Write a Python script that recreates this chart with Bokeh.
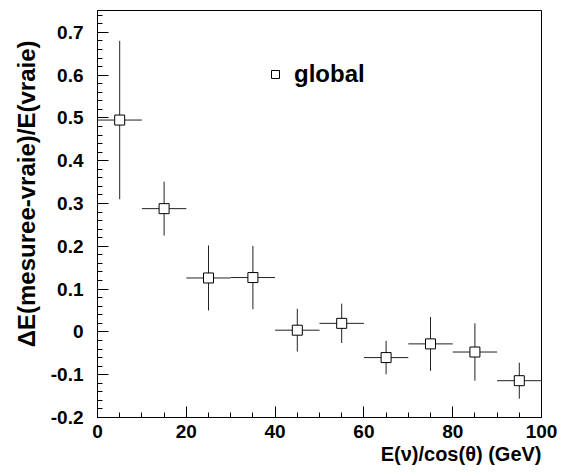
from bokeh.plotting import figure
from bokeh.models import (Range1d, FixedTicker, CustomJSTickFormatter, Title,
                          ColumnDataSource, Legend, LegendItem)
from bokeh.embed import file_html
from bokeh.resources import INLINE
import numpy as np

# ---- data ----
energy = [5, 15, 25, 35, 45, 55, 65, 75, 85, 95]
energy_err = [5, 5, 5, 5, 5, 5, 5, 5, 5, 5]
resolution = [0.495, 0.288, 0.126, 0.127, 0.004, 0.020, -0.060, -0.028, -0.047, -0.114]
resolution_err = [0.185, 0.063, 0.076, 0.074, 0.050, 0.046, 0.039, 0.063, 0.067, 0.042]
series_name = "global"

x_ticks = [0, 20, 40, 60, 80, 100]
x_tick_labels = ["0", "20", "40", "60", "80", "100"]
y_ticks = [-0.2, -0.1, 0.0, 0.1, 0.2, 0.3, 0.4, 0.5, 0.6, 0.7]
y_tick_labels = ["-0.2", "-0.1", "0", "0.1", "0.2", "0.3", "0.4", "0.5", "0.6", "0.7"]
x_title = "E(\u03bd)/cos(\u03b8) (GeV)"
y_title = "\u0394E(mesuree-vraie)/E(vraie)"

FONT = "Liberation Sans"

x = np.array(energy, dtype=float)
xe = np.array(energy_err, dtype=float)
y = np.array(resolution, dtype=float)
ye = np.array(resolution_err, dtype=float)

src = ColumnDataSource(dict(
    x=x, y=y,
    xl=x - xe, xr=x + xe,
    yl=y - ye, yh=y + ye,
))

p = figure(width=562, height=472, output_backend="svg", toolbar_location=None,
           x_range=Range1d(0, 100), y_range=Range1d(-0.2, 0.751),
           min_border_left=97, min_border_right=21, min_border_top=10, min_border_bottom=55)

p.background_fill_color = "white"
p.border_fill_color = "white"
p.outline_line_color = "black"
p.outline_line_width = 1
p.xgrid.visible = False
p.ygrid.visible = False

# error bars
p.segment(x0="xl", x1="xr", y0="y", y1="y", source=src, line_color="#222222", line_width=1)
p.segment(x0="x", x1="x", y0="yl", y1="yh", source=src, line_color="#222222", line_width=1)
pts = p.scatter(x="x", y="y", source=src, marker="square", size=10,
                fill_color="white", line_color="black", line_width=1)

FMT_CODE = """
const i = tk.findIndex(t => Math.abs(t - tick) < 1e-9);
return i >= 0 ? lbls[i] : '';
"""

# axes
x_minor = [v for v in range(0, 101, 5) if v not in x_ticks]
p.xaxis.ticker = FixedTicker(ticks=x_ticks, minor_ticks=x_minor)
p.xaxis.formatter = CustomJSTickFormatter(args=dict(tk=x_ticks, lbls=x_tick_labels), code=FMT_CODE)
y_minor = [round(v, 2) for v in np.arange(-0.2, 0.751, 0.02)]
p.yaxis.ticker = FixedTicker(ticks=y_ticks, minor_ticks=y_minor)
p.yaxis.formatter = CustomJSTickFormatter(args=dict(tk=y_ticks, lbls=y_tick_labels), code=FMT_CODE)

for ax in (p.xaxis[0], p.yaxis[0]):
    ax.axis_line_color = "black"
    ax.major_tick_line_color = "black"
    ax.minor_tick_line_color = "black"
    ax.major_tick_in = 11
    ax.major_tick_out = 0
    ax.minor_tick_in = 5
    ax.minor_tick_out = 0
    ax.major_label_text_font = FONT
    ax.major_label_text_font_style = "bold"
    ax.major_label_text_font_size = "19px"
    ax.major_label_text_color = "black"

p.xaxis.major_label_standoff = 7
p.yaxis.major_label_standoff = 14

# axis titles (right / top aligned, as in the original)
p.add_layout(Title(text=x_title, align="right", vertical_align="bottom",
                   offset=0, standoff=0,
                   text_font=FONT, text_font_style="bold", text_font_size="20px",
                   text_color="black"), "below")
p.add_layout(Title(text=y_title, align="right", vertical_align="bottom",
                   offset=30, standoff=16,
                   text_font=FONT, text_font_style="bold", text_font_size="24px",
                   text_color="black"), "left")

# legend
legend = Legend(items=[LegendItem(label=series_name, renderers=[pts])],
                location=(168, 329), padding=0, margin=0, spacing=0,
                glyph_width=20, glyph_height=20, label_standoff=9,
                label_text_font=FONT, label_text_font_style="bold",
                label_text_font_size="24px", label_text_color="black",
                border_line_alpha=0, background_fill_alpha=0)
p.add_layout(legend)

open("out.html", "w").write(file_html(p, INLINE))
